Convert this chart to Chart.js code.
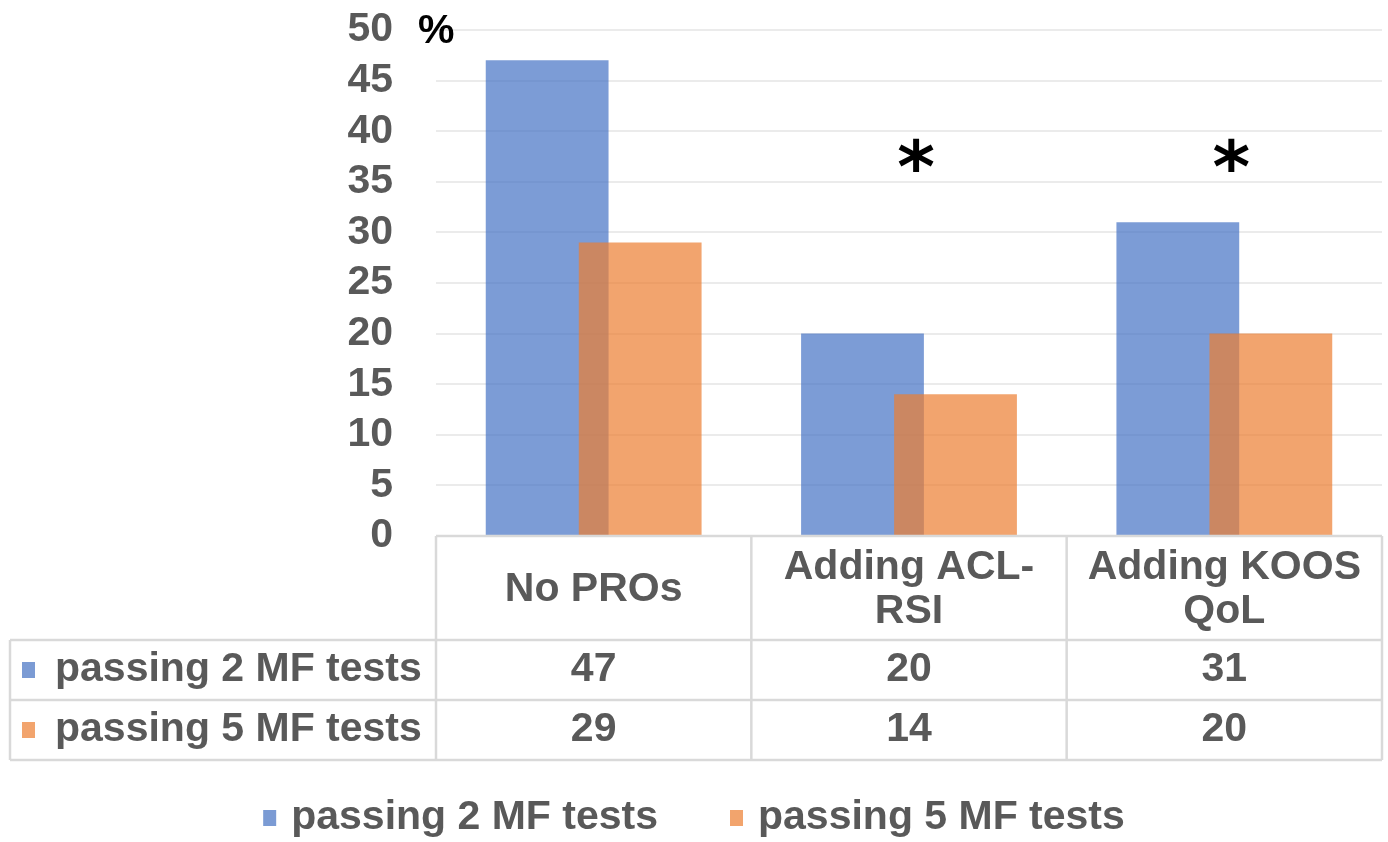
<!DOCTYPE html>
<html lang="en">
<head>
   <meta charset="UTF-8">
   <title>MF tests</title>
   <script src="https://cdn.jsdelivr.net/npm/chart.js"></script>
   <style>
       html, body { margin: 0; padding: 0; background: #fff; }
       #wrap { width: 1388px; height: 842px; }
   </style>
</head>
<body>
   <div id="wrap"><canvas id="mfChart" width="1388" height="842"></canvas></div>

   <script>
       // data
       const categories = [['No PROs'], ['Adding ACL-', 'RSI'], ['Adding KOOS', 'QoL']];
       const seriesNames = ['passing 2 MF tests', 'passing 5 MF tests'];
       const pass2 = [47, 20, 31];
       const pass5 = [29, 14, 20];
       const yTicks = [0, 5, 10, 15, 20, 25, 30, 35, 40, 45, 50];
       const sigMarks = ['', '*', '*'];

       const FONT = '"Liberation Sans", Arial, sans-serif';
       const TEXT = '#595959';
       const LINE = '#D9D9D9';
       const colors = ['rgba(68, 114, 196, 0.7)', 'rgba(237, 125, 49, 0.7)'];
       const swatch = ['#7B9BD4', '#F2A46D'];

       // orange bar goes over the blue one
       const orangeOnTop = {
           id: 'orangeOnTop',
           beforeDatasetDraw(chart, args) {
               if (args.index === 1) return false;
           },
           afterDatasetsDraw(chart) {
               const ctx = chart.ctx;
               ctx.save();
               chart.getDatasetMeta(1).controller.draw();
               ctx.restore();
           }
       };

       // data table, legend, % label and asterisks
       const extras = {
           id: 'extras',
           afterDraw(chart) {
               const ctx = chart.ctx;
               const x = chart.scales.x;
               const y = chart.scales.y;
               const area = chart.chartArea;
               const colW = (area.right - area.left) / categories.length;
               const top = area.bottom;
               const headH = 104, rowH = 60, leftEdge = 10;
               const r1 = top + headH, r2 = r1 + rowH, r3 = r2 + rowH;

               ctx.save();
               ctx.strokeStyle = LINE;
               ctx.lineWidth = 2.5;
               ctx.beginPath();
               ctx.moveTo(area.left, top); ctx.lineTo(area.right, top);
               [r1, r2, r3].forEach(yy => { ctx.moveTo(leftEdge, yy); ctx.lineTo(area.right, yy); });
               for (let i = 0; i <= categories.length; i++) {
                   const xx = area.left + i * colW;
                   ctx.moveTo(xx, top); ctx.lineTo(xx, r3);
               }
               ctx.moveTo(leftEdge, r1); ctx.lineTo(leftEdge, r3);
               ctx.stroke();

               ctx.font = 'bold 41px ' + FONT;
               ctx.fillStyle = TEXT;
               ctx.textAlign = 'center';
               ctx.textBaseline = 'middle';
               categories.forEach((lines, i) => {
                   const cx = x.getPixelForValue(i);
                   const midY = top + headH / 2 + 2;
                   lines.forEach((t, k) => {
                       ctx.fillText(t, cx, midY + (k - (lines.length - 1) / 2) * 44);
                   });
                   ctx.fillText(String(pass2[i]), cx, r1 + rowH / 2);
                   ctx.fillText(String(pass5[i]), cx, r2 + rowH / 2);
               });

               ctx.textAlign = 'left';
               [r1, r2].forEach((yy, k) => {
                   ctx.fillStyle = swatch[k];
                   ctx.fillRect(22, yy + rowH / 2 - 8, 13, 16);
                   ctx.fillStyle = TEXT;
                   ctx.fillText(seriesNames[k], 55, yy + rowH / 2);
               });

               // legend
               const widths = seriesNames.map(t => ctx.measureText(t).width + 28);
               const gap = 72;
               let lx = chart.width / 2 - (widths[0] + widths[1] + gap) / 2;
               const ly = 818;
               seriesNames.forEach((t, k) => {
                   ctx.fillStyle = swatch[k];
                   ctx.fillRect(lx, ly - 8, 13, 16);
                   ctx.fillStyle = TEXT;
                   ctx.fillText(t, lx + 28, ly);
                   lx += widths[k] + gap;
               });

               // % unit
               ctx.fillStyle = '#000';
               ctx.fillText('%', area.left - 18, y.getPixelForValue(50) + 2);

               // significance marks
               ctx.font = 'bold 72px "DejaVu Sans", sans-serif';
               ctx.textAlign = 'center';
               sigMarks.forEach((m, i) => {
                   if (!m) return;
                   ctx.fillText(m, x.getPixelForValue(i) + 7, y.getPixelForValue(37.4) + 16);
               });
               ctx.restore();
           }
       };

       new Chart(document.getElementById('mfChart'), {
           type: 'bar',
           data: {
               labels: categories,
               datasets: [
                   { label: seriesNames[0], data: pass2, backgroundColor: colors[0] },
                   { label: seriesNames[1], data: pass5, backgroundColor: colors[1] }
               ]
           },
           options: {
               responsive: false,
               animation: false,
               categoryPercentage: 0.59,
               barPercentage: 1.32,
               layout: { padding: { top: 30, right: 6, left: 0, bottom: 0 } },
               plugins: {
                   legend: { display: false },
                   tooltip: { enabled: false }
               },
               scales: {
                   x: {
                       grid: { display: false },
                       border: { display: false },
                       ticks: { display: false },
                       afterFit: s => { s.height = 306; }
                   },
                   y: {
                       min: 0,
                       max: 50,
                       afterBuildTicks: s => { s.ticks = yTicks.map(v => ({ value: v })); },
                       afterFit: s => { s.width = 436; s.paddingTop = 0; s.paddingBottom = 0; },
                       grid: { color: '#EBEBEB', lineWidth: 2, drawTicks: false },
                       border: { display: false },
                       ticks: {
                           autoSkip: false,
                           padding: 43,
                           color: TEXT,
                           font: { family: FONT, size: 41, weight: 'bold' }
                       }
                   }
               }
           },
           plugins: [orangeOnTop, extras]
       });
   </script>
</body>
</html>
